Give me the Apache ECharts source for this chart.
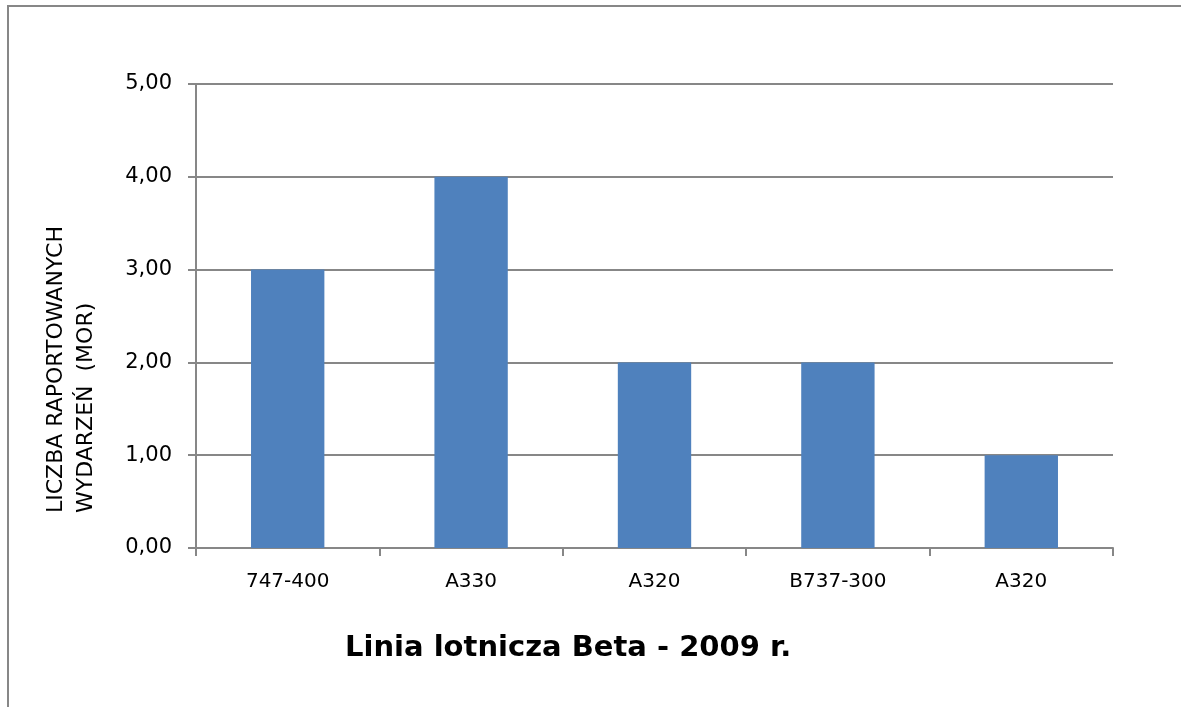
<!DOCTYPE html>
<html>
<head>
<meta charset="utf-8">
<script src="https://cdn.jsdelivr.net/npm/echarts@6/dist/echarts.min.js"></script>
<style>
html, body { margin: 0; padding: 0; background: #fff; }
#chart { width: 1181px; height: 707px; }
</style>
</head>
<body>
<div id="chart"></div>
<script>
var categories = ['747-400', 'A330', 'A320', 'B737-300', 'A320'];
var values = [3, 4, 2, 2, 1];
var yTicks = { min: 0, max: 5, interval: 1 };

var chart = echarts.init(document.getElementById('chart'));
var font = 'Verdana, "DejaVu Sans", sans-serif';
var gray = '#878787';

var option = {
    animation: false,
    title: {
        text: 'Linia lotnicza Beta - 2009 r.',
        left: 340,
        top: 629,
        textStyle: { fontFamily: font, fontSize: 29, fontWeight: 'bold', color: '#000' }
    },
    grid: { left: 196, right: 68, top: 84, bottom: 159 },
    xAxis: {
        type: 'category',
        data: categories,
        axisLine: { lineStyle: { color: gray, width: 2 } },
        axisTick: { show: true, length: 8, lineStyle: { color: gray, width: 2 } },
        axisLabel: { color: '#000', fontFamily: font, fontSize: 20, margin: 24 }
    },
    yAxis: {
        type: 'value',
        min: yTicks.min,
        max: yTicks.max,
        interval: yTicks.interval,
        axisLine: { show: true, lineStyle: { color: gray, width: 2 } },
        axisTick: { show: true, length: 8, lineStyle: { color: gray, width: 2 } },
        splitLine: { lineStyle: { color: gray, width: 2 } },
        axisLabel: {
            color: '#000', fontFamily: font, fontSize: 21, margin: 24,
            formatter: function (v) { return v.toFixed(2).replace('.', ','); }
        }
    },
    series: [{
        type: 'bar',
        data: values,
        barWidth: '40%',
        itemStyle: { color: '#4F81BD' }
    }],
    graphic: [
        { type: 'line', shape: { x1: 8, y1: 6, x2: 1181, y2: 6 }, style: { stroke: gray, lineWidth: 2 } },
        { type: 'line', shape: { x1: 8, y1: 5, x2: 8, y2: 707 }, style: { stroke: gray, lineWidth: 2 } },
        {
            type: 'text', x: 71, y: 513, rotation: Math.PI / 2,
            style: {
                text: 'LICZBA RAPORTOWANYCH\nWYDARZEŃ  (MOR)',
                fontFamily: font, fontSize: 22, fill: '#000',
                align: 'left', verticalAlign: 'middle', lineHeight: 30
            }
        }
    ]
};
chart.setOption(option);
</script>
</body>
</html>
